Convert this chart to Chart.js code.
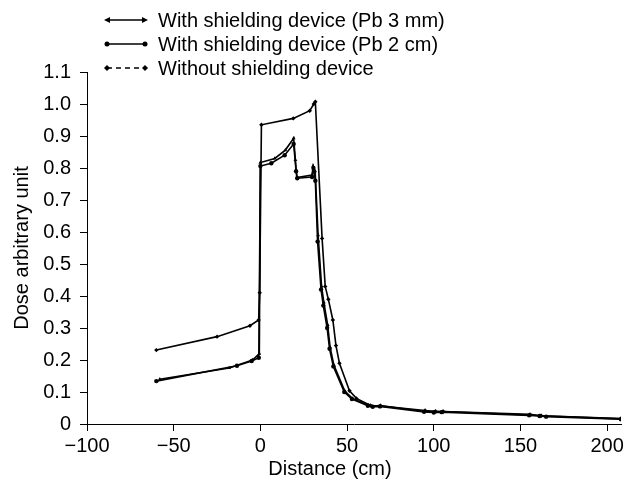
<!DOCTYPE html>
<html>
<head>
<meta charset="utf-8">
<script src="https://cdn.jsdelivr.net/npm/chart.js@4.4.1/dist/chart.umd.min.js"></script>
<style>
  body { margin: 0; background: #fff; }
  #wrap { position: relative; width: 628px; height: 492px; font-family: "Liberation Sans", Arial, sans-serif; }
  .legend-row { position: absolute; left: 104px; height: 22px; display: flex; align-items: center; font-size: 20px; color: #000; white-space: nowrap; }
  .legend-row svg { margin-right: 10px; }
  #x-title { position: absolute; top: 457px; left: 0; width: 660px; text-align: center; font-size: 20px; }
</style>
</head>
<body>
<div id="wrap">
  <canvas id="dose-chart" width="628" height="492"></canvas>
  <div class="legend-row" style="top:9px">
    <svg width="44" height="10"><line x1="3" y1="5" x2="41" y2="5" stroke="#000" stroke-width="1.5"/><polygon points="0,5 6,2 6,8" fill="#000"/><polygon points="44,5 38,2 38,8" fill="#000"/></svg>
    <span>With shielding device (Pb 3 mm)</span>
  </div>
  <div class="legend-row" style="top:33px">
    <svg width="44" height="10"><line x1="3" y1="5" x2="41" y2="5" stroke="#000" stroke-width="1.5"/><circle cx="3" cy="5" r="2.5" fill="#000"/><circle cx="41" cy="5" r="2.5" fill="#000"/></svg>
    <span>With shielding device (Pb 2 cm)</span>
  </div>
  <div class="legend-row" style="top:57px">
    <svg width="44" height="10"><line x1="3" y1="5" x2="41" y2="5" stroke="#000" stroke-width="1.5" stroke-dasharray="5,4"/><polygon points="0,5 3,2 6,5 3,8" fill="#000"/><polygon points="38,5 41,2 44,5 41,8" fill="#000"/></svg>
    <span>Without shielding device</span>
  </div>
  <div id="x-title">Distance (cm)</div>
</div>
<script>
// Dose profiles
const pb3mmX = [-58, -18, -4.5, -0.6, 0, 8.3, 14.4, 19.2, 20.2, 21, 29.8, 30.4, 31.6, 33.3, 35.3, 36.6, 38.8, 40.2, 42.4, 48.6, 53, 62.5, 64.4, 69.2, 94.6, 100.6, 105, 155.6, 161.5, 208];
const pb3mmY = [0.14, 0.175, 0.2, 0.22, 0.817, 0.83, 0.856, 0.893, 0.825, 0.77, 0.778, 0.806, 0.79, 0.59, 0.43, 0.38, 0.31, 0.24, 0.184, 0.104, 0.08, 0.059, 0.056, 0.058, 0.039, 0.037, 0.039, 0.028, 0.026, 0.016];

const pb2cmX = [-60, -13.5, -5, -0.9, 0, 6.3, 14, 19.2, 20.6, 21.3, 29.8, 30.6, 31.7, 33, 35, 36.3, 38.5, 39.9, 42.1, 48.4, 52.8, 62, 64.8, 69, 94.4, 100, 104.6, 155, 161, 164.8, 208];
const pb2cmY = [0.134, 0.182, 0.197, 0.207, 0.806, 0.815, 0.84, 0.875, 0.79, 0.768, 0.772, 0.8, 0.76, 0.57, 0.42, 0.37, 0.3, 0.235, 0.18, 0.1, 0.078, 0.057, 0.054, 0.055, 0.038, 0.036, 0.037, 0.027, 0.025, 0.023, 0.015];

const noShieldX = [-60, -25, -6, -1, -0.4, 0.6, 19, 28.5, 30.8, 31.7, 35.6, 37.4, 39.2, 41.8, 43.6, 45.6, 51.4, 55.4, 63.5, 69.5, 95, 101, 105.5, 155.5, 162, 208];
const noShieldY = [0.231, 0.273, 0.307, 0.325, 0.41, 0.935, 0.955, 0.979, 1.0, 1.007, 0.58, 0.43, 0.39, 0.325, 0.245, 0.19, 0.104, 0.08, 0.058, 0.056, 0.042, 0.04, 0.039, 0.03, 0.026, 0.017];

const xTickValues = [-100, -50, 0, 50, 100, 150, 200];
const xTickLabels = ['\u2212100', '\u221250', '0', '50', '100', '150', '200'];
const yTickLabels = ['0', '0.1', '0.2', '0.3', '0.4', '0.5', '0.6', '0.7', '0.8', '0.9', '1.0', '1.1'];

const toPoints = (xs, ys) => xs.map((x, i) => ({ x: x, y: ys[i] }));

const lineStyle = (style) => ({
    borderColor: '#000',
    backgroundColor: '#000',
    borderWidth: 1.6,
    pointStyle: style,
    pointRadius: 2.2,
    pointBorderWidth: 0,
    tension: 0,
    showLine: true
});

const font = { family: '"Liberation Sans", Arial, sans-serif', size: 20 };

new Chart(document.getElementById('dose-chart'), {
    type: 'scatter',
    data: {
        datasets: [
            { label: 'With shielding device (Pb 3 mm)', data: toPoints(pb3mmX, pb3mmY), ...lineStyle('triangle') },
            { label: 'With shielding device (Pb 2 cm)', data: toPoints(pb2cmX, pb2cmY), ...lineStyle('circle') },
            { label: 'Without shielding device', data: toPoints(noShieldX, noShieldY), ...lineStyle('rectRot') }
        ]
    },
    options: {
        responsive: false,
        animation: false,
        layout: { padding: { top: 72, right: 7, bottom: 0, left: 0 } },
        plugins: {
            legend: { display: false },
            tooltip: { enabled: false }
        },
        scales: {
            x: {
                type: 'linear',
                min: -100,
                max: 208,
                border: { color: '#000', width: 1 },
                grid: { drawOnChartArea: false, drawTicks: true, tickLength: 7, color: '#000' },
                ticks: {
                    stepSize: 50,
                    color: '#000',
                    font: font,
                    padding: 3,
                    maxRotation: 0,
                    callback: (value) => xTickLabels[xTickValues.indexOf(value)]
                },
                afterBuildTicks: (scale) => {
                    scale.ticks = xTickValues.map(v => ({ value: v }));
                },
                afterFit: (scale) => {
                    scale.height = 68;
                    scale.paddingLeft = 0;
                    scale.paddingRight = 0;
                }
            },
            y: {
                min: 0,
                max: 1.1,
                border: { color: '#000', width: 1 },
                grid: { drawOnChartArea: false, drawTicks: true, tickLength: 7, color: '#000' },
                ticks: {
                    stepSize: 0.1,
                    color: '#000',
                    font: font,
                    padding: 9,
                    callback: (value, index) => yTickLabels[index]
                },
                title: {
                    display: true,
                    text: 'Dose arbitrary unit',
                    color: '#000',
                    font: font,
                    padding: { top: 10, bottom: 0 }
                },
                afterFit: (scale) => {
                    scale.width = 87;
                    scale.paddingTop = 0;
                    scale.paddingBottom = 0;
                }
            }
        }
    }
});
</script>
</body>
</html>
